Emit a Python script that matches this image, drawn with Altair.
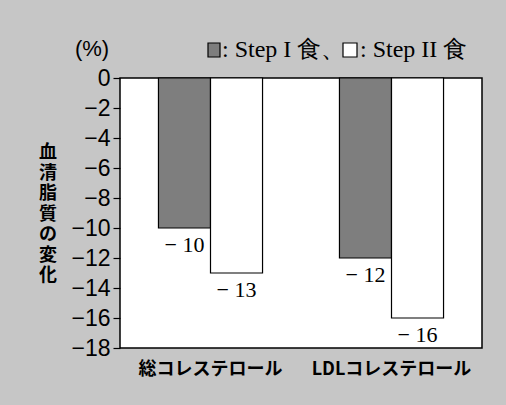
import altair as alt
import pandas as pd

# Serum lipid change (%) by diet step
categories = ["総コレステロール", "LDLコレステロール"]
series = ["Step I 食", "Step II 食"]
step1_values = [-10, -12]
step2_values = [-13, -16]

rows = []
for i, cat in enumerate(categories):
    rows.append({"cat": cat, "diet": series[0], "value": step1_values[i],
                 "label": "− " + str(abs(step1_values[i]))})
    rows.append({"cat": cat, "diet": series[1], "value": step2_values[i],
                 "label": "− " + str(abs(step2_values[i]))})
df = pd.DataFrame(rows)

W, H = 362, 270
BG = "#c6c6c6"
DARK = "#7e7e7e"
SERIF = "Liberation Serif"
GOTHIC = "Noto Sans CJK JP"

x_enc = alt.X("cat:N", sort=categories, title=None,
              scale=alt.Scale(paddingInner=0.425, paddingOuter=0.2125),
              axis=alt.Axis(labelAngle=0, labelFont=GOTHIC, labelFontSize=18,
                            labelFontWeight="bold", labelColor="black",
                            labelPadding=12, ticks=False, domain=False))
y_axis = alt.Axis(values=list(range(0, -19, -2)),
                  labelExpr="datum.value == 0 ? '0' : '−' + abs(datum.value)",
                  labelFont="Liberation Sans", labelFontSize=23,
                  labelColor="black", labelPadding=3,
                  labelOverlap=False, labelBound=False, labelFlush=False,
                  tickColor="black", tickSize=7, tickWidth=1.2,
                  domain=False, grid=False)
y_enc = alt.Y("value:Q", title=None,
              scale=alt.Scale(domain=[-18, 0], nice=False), axis=y_axis)
off = alt.XOffset("diet:N", sort=series, scale=alt.Scale(paddingInner=0))

base = alt.Chart(df).encode(x=x_enc, xOffset=off, y=y_enc)

bars = base.mark_bar(stroke="black", strokeWidth=1.2).encode(
    y2=alt.datum(0),
    color=alt.Color("diet:N", sort=series,
                    scale=alt.Scale(domain=series, range=[DARK, "white"]),
                    legend=None),
)

labels = base.mark_text(font=SERIF, fontSize=22, baseline="top", dy=7,
                        color="black").encode(text="label:N")

# Unit, legend and vertical axis title
ann = pd.DataFrame({"t": ["(%)"]})
unit = alt.Chart(ann).mark_text(font="Liberation Sans", fontSize=22,
                                color="black").encode(
    text="t:N", x=alt.value(-28), y=alt.value(-29))

swatch_df = pd.DataFrame({"x": [88, 223], "x2": [100, 237], "fill": [DARK, "white"]})
swatches = alt.Chart(swatch_df).mark_rect(stroke="black", strokeWidth=1.2).encode(
    x=alt.X("x:Q", scale=None), x2="x2:Q",
    y=alt.value(-35), y2=alt.value(-21),
    fill=alt.Fill("fill:N", scale=None))

leg_df = pd.DataFrame({"x": [102, 240], "t": [": " + series[0] + "、", ": " + series[1]]})
leg_text = alt.Chart(leg_df).mark_text(font=SERIF, fontSize=24, align="left",
                                       baseline="middle", color="black").encode(
    x=alt.X("x:Q", scale=None), y=alt.value(-28), text="t:N")

ytitle = alt.Chart(pd.DataFrame({"t": ["血|清|脂|質|の|変|化"]})).mark_text(
    font=GOTHIC, fontSize=18, fontWeight="bold", lineBreak="|", lineHeight=20.5,
    baseline="top", color="black").encode(
    text="t:N", x=alt.value(-72), y=alt.value(66))

chart = alt.layer(bars, labels, unit, swatches, leg_text, ytitle).properties(
    width=W, height=H,
    background=BG,
    padding={"left": 120, "top": 78, "right": 24, "bottom": 57},
    autosize=alt.AutoSizeParams(type="none"),
).configure_view(
    fill="white", stroke="black", strokeWidth=1.5
).configure_axisY(labelFontSize=23, labelFont="Liberation Sans")

chart.save("out.html", embed_options={"renderer": "svg", "actions": False})
